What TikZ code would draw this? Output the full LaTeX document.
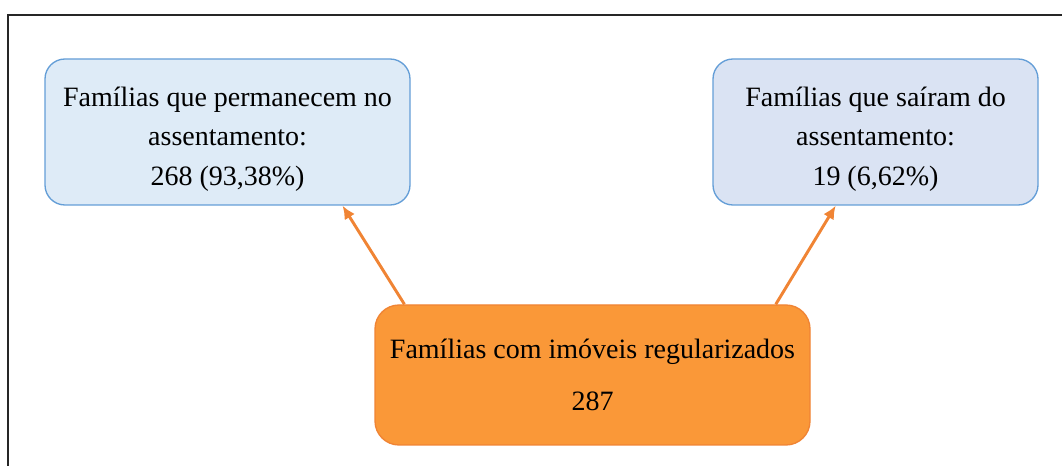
\documentclass[tikz,border=0pt]{standalone}
\usepackage{fontspec}
\setmainfont{Liberation Serif}
\usetikzlibrary{arrows.meta,calc}

\definecolor{azulclaro}{RGB}{222,235,247}
\definecolor{lilasclaro}{RGB}{218,227,243}
\definecolor{azulborda}{RGB}{100,158,215}
\definecolor{laranja}{RGB}{250,152,56}
\definecolor{laranjaborda}{RGB}{240,132,52}

\begin{document}
\begin{tikzpicture}[x=0.75pt,y=-0.75pt]
\tikzstyle{caixa}=[draw=azulborda,line width=1pt,rounded corners=15pt,align=center,
	font=\fontsize{21}{29.5}\selectfont,minimum height=109.5pt,inner sep=0pt];
\tikzstyle{seta}=[draw=laranjaborda,line width=2.2pt,-{Latex[length=10pt,width=9pt]}];
\useasboundingbox (0,0) rectangle (1064,466);
% moldura cortada
\draw[line width=1.4pt,black!85] (8,470) -- (8,15) -- (1062,15);
\node[caixa,fill=azulclaro,minimum width=273.75pt] (ficam) at (227.5,132)
	{\rule{0pt}{25pt}Famílias que permanecem no\\assentamento:\\268 (93,38\%)};
\node[caixa,fill=lilasclaro,minimum width=243.75pt] (sairam) at (875.5,132)
	{\rule{0pt}{25pt}Famílias que saíram do\\assentamento:\\19 (6,62\%)};
\node[caixa,fill=laranja,draw=laranjaborda,minimum width=326.25pt,minimum height=105pt,
	rounded corners=18pt] (total) at (592.5,375)
	{Famílias com imóveis regularizados\\[10pt]287};
\draw[seta] ($(total.north west)!0.069!(total.north east)$) -- ($(ficam.south west)!0.814!(ficam.south east)$);
\draw[seta] ($(total.north west)!0.92!(total.north east)$) -- ($(sairam.south west)!0.378!(sairam.south east)$);
\end{tikzpicture}
\end{document}
